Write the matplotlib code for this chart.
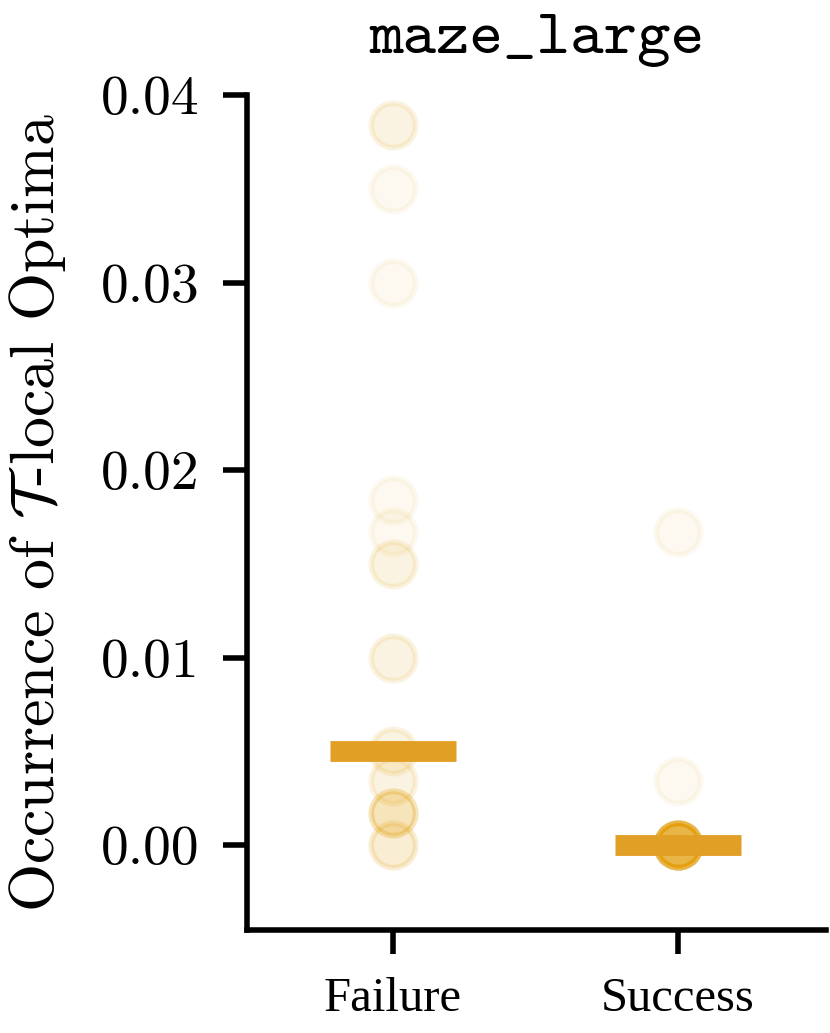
import os
import numpy as np
import matplotlib
import matplotlib.pyplot as plt
from matplotlib.font_manager import FontProperties

plt.rcParams['font.family'] = 'serif'
plt.rcParams['font.serif'] = ['cmr10']
plt.rcParams['mathtext.fontset'] = 'cm'
plt.rcParams['axes.unicode_minus'] = False

ttf_dir = os.path.join(matplotlib.get_data_path(), 'fonts', 'ttf')
cm_tick = FontProperties(fname=os.path.join(ttf_dir, 'cmr10.ttf'), size=40)
cm_title = FontProperties(fname=os.path.join(ttf_dir, 'cmtt10.ttf'), size=46)
times_tick = FontProperties(family='Liberation Serif', size=35)

# data
categories = ['Failure', 'Success']
failure = [0.0384, 0.0384, 0.0350, 0.0300, 0.0184, 0.0167, 0.0150, 0.0150,
           0.0100, 0.0100, 0.0050, 0.0050, 0.0034, 0.0034,
           0.0017, 0.0017, 0.0017, 0.0017, 0.0017, 0.0, 0.0, 0.0]
success = [0.0167, 0.0034] + [0.0] * 20
yticks = [0.00, 0.01, 0.02, 0.03, 0.04]
title = 'maze_large'
ylabel = r'Occurrence of $\mathcal{T}$-local Optima'

pt_color = '#E69F00'
bar_color = '#E19F26'

fig = plt.figure(figsize=(8.3, 10.33), dpi=100)
ax = fig.add_axes([247/830, 103/1033, 579/830, 835/1033])

for i, vals in enumerate([failure, success]):
    ax.scatter(np.full(len(vals), i), vals, s=1024, color=pt_color, alpha=0.06,
               edgecolors=pt_color, linewidths=4, zorder=2)
    med = np.median(vals)
    ax.plot([i - 0.22, i + 0.22], [med, med], color=bar_color, lw=15,
            solid_capstyle='butt', zorder=3)

ax.set_xlim(-0.512, 1.52)
ax.set_ylim(-0.00453, 0.04)
ax.set_xticks([0, 1])
ax.set_xticklabels(categories, fontproperties=times_tick)
ax.set_yticks(yticks)
ax.set_yticklabels(['%.2f' % v for v in yticks], fontproperties=cm_tick)

for s in ['top', 'right']:
    ax.spines[s].set_visible(False)
for s in ['left', 'bottom']:
    ax.spines[s].set_linewidth(4)
ax.tick_params(length=17, width=4, pad=17)

ax.set_ylabel(ylabel, fontsize=44.5, labelpad=24)
ax.set_title(title, fontproperties=cm_title, pad=30)

fig.savefig('out.png', dpi=100)
